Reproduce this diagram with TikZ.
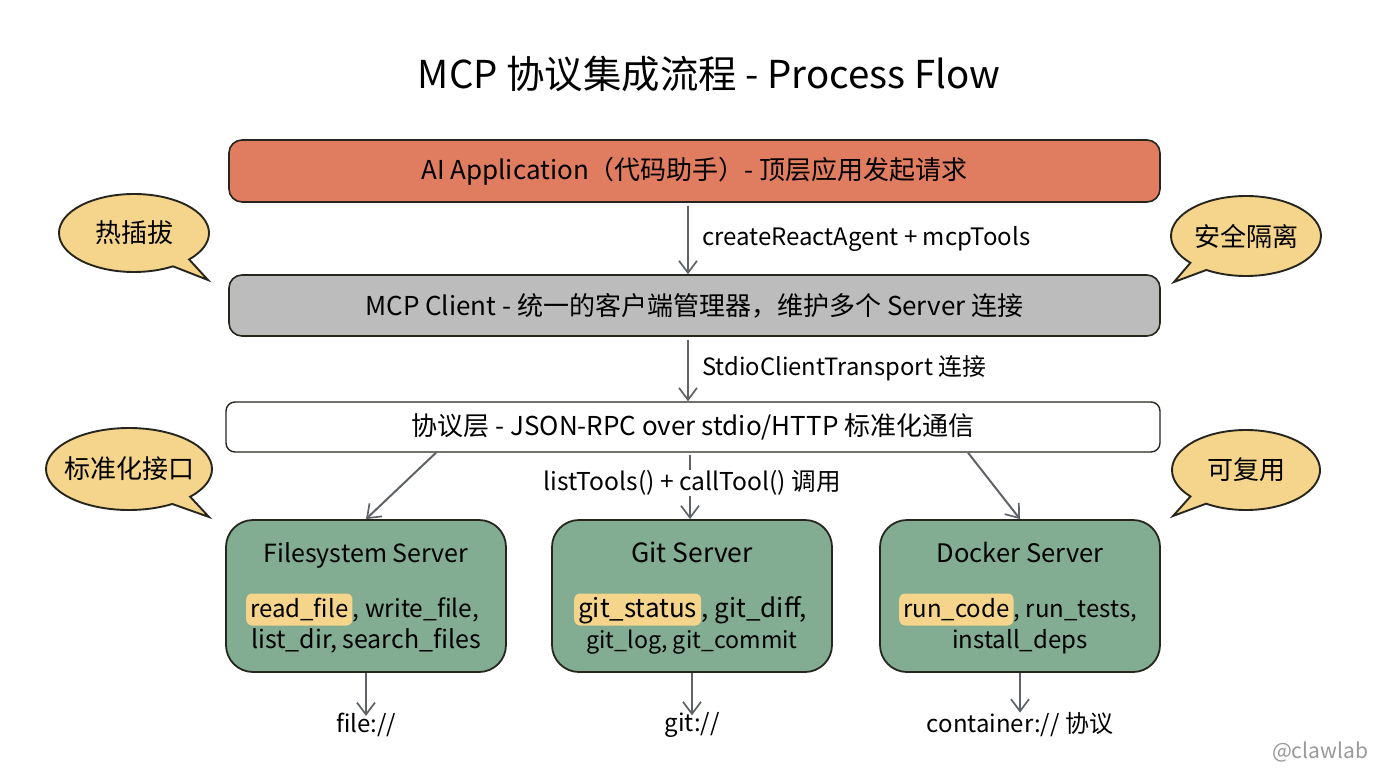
\documentclass[tikz,border=0pt]{standalone}
\usepackage{fontspec}
\setmainfont{Noto Sans CJK SC}
\usetikzlibrary{shapes.callouts,arrows.meta}
\definecolor{ink}{HTML}{26261F}
\definecolor{redf}{HTML}{E07C60}
\definecolor{grayf}{HTML}{BCBCBC}
\definecolor{greenf}{HTML}{82AD92}
\definecolor{yell}{HTML}{F5D48C}
\definecolor{arrowc}{HTML}{5F6368}
\newcommand{\fsz}[1]{\fontsize{#1}{#1}\selectfont}
\newcommand{\lowr}[1]{\raisebox{-2pt}{#1}}
\tikzset{
  x=1pt,y=-1pt,
  layer/.style={draw=ink,line width=1.6pt,rounded corners=13pt,inner sep=0pt,text=black,font=\fsz{26}},
  server/.style={draw=ink,line width=1.8pt,rounded corners=27pt,fill=greenf,inner sep=0pt,minimum width=280pt,minimum height=152pt},
  flow/.style={draw=arrowc,line width=2pt,-{Straight Barb[length=12pt,width=18pt,line width=1.7pt]}},
  flowplain/.style={draw=arrowc,line width=2pt},
  lab/.style={font=\fsz{24},text=black,inner sep=0pt},
  sv/.style={text=black,inner sep=0pt,anchor=base},
  hl/.style={fill=yell,rounded corners=6pt,inner xsep=4pt,inner ysep=0pt,text height=24pt,text depth=8pt,text=black},
  bubble/.style={ellipse callout,draw=ink,line width=1.9pt,fill=yell,inner sep=0pt,font=\fsz{26},text=black,callout pointer arc=16},
}
\begin{document}
\begin{tikzpicture}
\useasboundingbox (0,0) rectangle (1376,768);
\fill[white] (0,0) rectangle (1376,768);
\node[font=\fsz{38.4},inner sep=0pt] (title) at (709,74) {MCP 协议集成流程 - Process Flow};

\node[layer,fill=redf,minimum width=931pt,minimum height=62pt] (ai) at (694.5,171) {\lowr{AI Application（代码助手）- 顶层应用发起请求}};
\node[layer,fill=grayf,minimum width=931pt,minimum height=61pt] (client) at (694.5,305.5) {\lowr{MCP Client - 统一的客户端管理器，维护多个 Server 连接}};
\node[layer,fill=white,line width=1.4pt,rounded corners=9pt,minimum width=934pt,minimum height=50pt] (proto) at (693,427) {\lowr{协议层 - JSON-RPC over stdio/HTTP 标准化通信}};

\node[server] (fs) at (366,596) {};
\node[server] (git) at (692,596) {};
\node[server] (docker) at (1020,596) {};

\node[sv,font=\fsz{25}] (fst) at (366,562) {Filesystem Server};
\node[sv,font=\fsz{26.5}] (gitt) at (692,562) {Git Server};
\node[sv,font=\fsz{25.5}] (dockt) at (1020,562) {Docker Server};

\node[hl,anchor=base west,font=\fsz{24}] (h1) at (246,617.5) {read\_file};
\node[sv,anchor=base west,font=\fsz{24.5}] (h1r) at (h1.base east) {, write\_file,};
\node[sv,font=\fsz{25}] (l1) at (366,648) {list\_dir, search\_files};

\node[hl,anchor=base west,font=\fsz{26}] (h2) at (574,617.5) {git\_status};
\node[sv,anchor=base west,font=\fsz{26}] (h2r) at (h2.base east) {, git\_diff,};
\node[sv,font=\fsz{23.2}] (l2) at (692,648) {git\_log, git\_commit};

\node[hl,anchor=base west,font=\fsz{24}] (h3) at (899,617.5) {run\_code};
\node[sv,anchor=base west,font=\fsz{24}] (h3r) at (h3.base east) {, run\_tests,};
\node[sv,font=\fsz{24}] (l3) at (1020,648) {install\_deps};

\node[lab,anchor=west] (la) at (702,239) {createReactAgent + mcpTools};
\node[lab,anchor=west,font=\fsz{23.8}] (lb) at (702,368) {StdioClientTransport 连接};
\node[lab,font=\fsz{24.6},fill=white] (lc) at (692,483) {listTools() + callTool() 调用};

\node[lab] (f1) at (366,725) {file://};
\node[lab] (f2) at (692,725) {git://};
\node[lab] (f3) at (1020,725) {container:// 协议};

\draw[flow] ([xshift=-6.5pt]ai.south) ++(0,3) -- ([xshift=-6.5pt]client.north);
\draw[flow] ([xshift=-6.5pt]client.south) ++(0,3) -- ([xshift=-5pt]proto.north);
\draw[flow] ([xshift=-257pt]proto.south) -- (fs.north);
\draw[flowplain] ([xshift=-3pt]proto.south) ++(0,2) -- ([xshift=-2pt]lc.north);
\draw[flow] ([xshift=-2pt]lc.south) -- ([xshift=-2pt]git.north);
\draw[flow] ([xshift=275pt]proto.south) -- (docker.north);
\draw[flow] (fs.south) -- ([yshift=-3pt]f1.north);
\draw[flow] (git.south) -- ([yshift=-3pt]f2.north);
\draw[flow] (docker.south) -- (f3.north);

\node[bubble,minimum width=150pt,minimum height=78pt,callout absolute pointer={(208,280)}] (b1) at (134,233) {热插拔};
\node[bubble,minimum width=150pt,minimum height=80pt,callout absolute pointer={(1174,282)}] (b2) at (1246,236) {安全隔离};
\node[bubble,inner xsep=-6.5pt,minimum width=166pt,minimum height=82pt,callout absolute pointer={(209,517)}] (b3) at (129,469) {标准化接口};
\node[bubble,minimum width=148pt,minimum height=80pt,callout absolute pointer={(1173,516)}] (b4) at (1246,470) {可复用};

\node[font=\fsz{21},text=black!40,inner sep=0pt] (wm) at (1320,752) {@clawlab};
\end{tikzpicture}
\end{document}
